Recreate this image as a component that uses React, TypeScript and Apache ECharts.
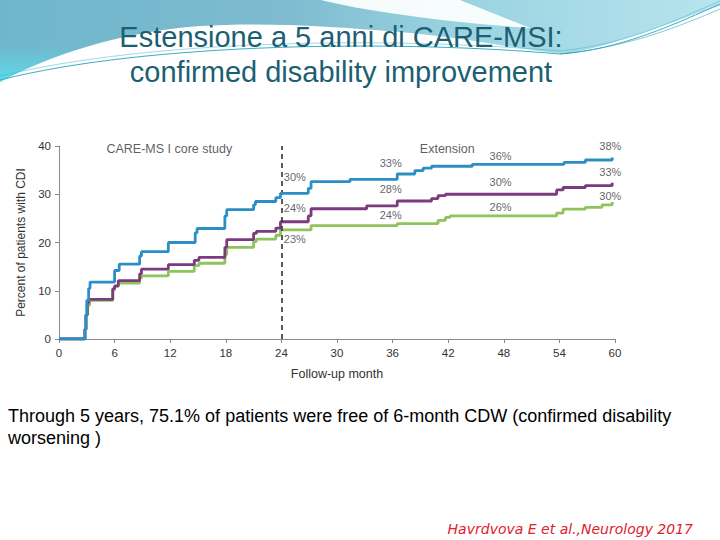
import React, { useEffect, useRef } from "react";
import * as echarts from "echarts";

// ---- Data ----
const blueMonths = [0, 2.8, 2.9, 3.0, 3.2, 3.35, 6.0, 6.5, 8.7, 8.9, 11.8, 14.7, 14.9, 17.9, 18.1, 21.0, 21.2, 23.4, 23.9, 26.9, 27.2, 31.4, 36.5, 38.4, 39.3, 40.2, 44.6, 54.5, 56.8, 59.7];
const blueValues = [0, 2, 5, 8, 10.5, 11.8, 14.2, 15.5, 17.2, 18.1, 20.0, 22.0, 22.9, 25.5, 26.8, 27.8, 28.5, 29.3, 30.2, 31.2, 32.6, 33.1, 34.2, 34.9, 35.4, 35.8, 36.2, 36.6, 37.1, 37.6];

const purpleMonths = [0, 2.8, 2.9, 3.05, 3.2, 5.8, 6.0, 6.4, 8.7, 8.9, 11.8, 14.6, 15.1, 17.9, 18.1, 21.0, 21.3, 23.4, 23.9, 26.9, 27.2, 33.2, 36.5, 40.2, 40.9, 41.7, 53.7, 54.4, 56.8, 59.7];
const purpleValues = [0, 2, 5, 7.5, 8.2, 10.4, 11.0, 12.1, 13.5, 14.5, 15.4, 16.3, 16.9, 19.0, 20.6, 21.9, 22.3, 23.0, 24.3, 25.5, 27.0, 27.6, 28.6, 29.1, 29.7, 30.0, 30.9, 31.4, 31.8, 32.4];

const greenMonths = [0, 2.8, 2.95, 3.1, 3.3, 5.8, 6.0, 6.4, 8.7, 8.9, 11.8, 14.6, 15.1, 17.9, 18.1, 21.0, 21.3, 23.4, 23.9, 27.2, 36.5, 40.9, 41.7, 42.2, 53.7, 54.4, 56.8, 58.6, 59.7];
const greenValues = [0, 2, 5, 7.0, 8.0, 10.2, 10.9, 11.6, 12.6, 13.1, 14.0, 15.2, 15.7, 17.5, 19.0, 20.2, 20.7, 21.5, 22.6, 23.5, 23.9, 24.6, 25.2, 25.5, 26.1, 26.9, 27.3, 27.8, 28.4];

const pctLabelMonths = [25.45, 25.45, 25.45, 35.8, 35.8, 35.8, 47.65, 47.65, 47.65, 59.5, 59.5, 59.5];
const pctLabelValues = [33.6, 27.2, 20.8, 36.4, 31.1, 25.6, 37.9, 32.5, 27.3, 39.9, 34.6, 29.7];
const pctLabelTexts = ["30%", "24%", "23%", "33%", "28%", "24%", "36%", "30%", "26%", "38%", "33%", "30%"];

const phaseLabelMonths = [11.9, 41.9];
const phaseLabelValues = [39.3, 39.3];
const phaseLabelTexts = ["CARE-MS I core study", "Extension"];

const xTicks = [0, 6, 12, 18, 24, 30, 36, 42, 48, 54, 60];
const yTicks = [0, 10, 20, 30, 40];
const dividerMonth = 24;

const titleLines = ["Estensione a 5 anni di CARE-MSI:", "confirmed disability improvement"];
const bodyLines = [
  "Through 5 years, 75.1% of patients were free of 6-month CDW (confirmed disability",
  "worsening )",
];
const citation = "Havrdvova E et al.,Neurology 2017";

const FONT = "'Liberation Sans', Arial, sans-serif";

let shapesRegistered = false;
function registerShapes() {
  if (shapesRegistered) return;
  shapesRegistered = true;
  echarts.graphic.registerShape(
    "band",
    echarts.graphic.extendPath(
      "M0,0 L720,0 L720,6 C680,18 620,45 565,54 C520,50 470,38 400,32 C330,26 260,22 200,26 C120,32 50,55 0,82 Z",
      {}
    )
  );
  echarts.graphic.registerShape(
    "crescent",
    echarts.graphic.extendPath("M321,0 C360,10 440,22 530,28 C510,20 480,8 460,0 Z", {})
  );
  echarts.graphic.registerShape(
    "thinLine1",
    echarts.graphic.extendPath("M0,80 C150,42 400,40 560,54 C620,50 680,22 720,4", {})
  );
  echarts.graphic.registerShape(
    "thinLine2",
    echarts.graphic.extendPath("M0,76 C150,40 380,36 560,51 C630,44 680,18 720,1", {})
  );
  echarts.graphic.registerShape(
    "thinLine3",
    echarts.graphic.extendPath("M560,54 C630,47 680,26 720,9", {})
  );
}

export default function App() {
  const ref = useRef<HTMLDivElement>(null);

  useEffect(() => {
    if (!ref.current) return;
    registerShapes();
    const chart = echarts.init(ref.current, undefined, { renderer: "svg" });

    const toPairs = (xs: number[], ys: number[]) => xs.map((x, i) => [x, ys[i]]);
    const lineSeries = (name: string, xs: number[], ys: number[], color: string, z: number) => ({
      name,
      type: "line",
      step: "end",
      data: toPairs(xs, ys),
      showSymbol: false,
      symbol: "none",
      z,
      lineStyle: { color, width: 2.8 },
      itemStyle: { color },
    });

    const option: any = {
      animation: false,
      backgroundColor: "#ffffff",
      textStyle: { fontFamily: FONT },
      grid: { left: 59, right: 105, top: 146, bottom: 201, containLabel: false },
      xAxis: {
        type: "value",
        min: xTicks[0],
        max: xTicks[xTicks.length - 1],
        interval: xTicks[1] - xTicks[0],
        name: "Follow-up month",
        nameLocation: "middle",
        nameGap: 28,
        nameTextStyle: { fontSize: 12.5, color: "#333", fontFamily: FONT },
        axisLine: { show: true, lineStyle: { color: "#8a8a8a", width: 1 } },
        axisTick: { show: true, length: 4, lineStyle: { color: "#8a8a8a" } },
        axisLabel: { fontSize: 11.5, color: "#333", margin: 8, fontFamily: FONT },
        splitLine: { show: false },
      },
      yAxis: {
        type: "value",
        min: yTicks[0],
        max: yTicks[yTicks.length - 1],
        interval: yTicks[1] - yTicks[0],
        name: "Percent of patients with CDI",
        nameLocation: "middle",
        nameGap: 30,
        nameTextStyle: { fontSize: 12, color: "#333", fontFamily: FONT },
        axisLine: { show: true, lineStyle: { color: "#8a8a8a", width: 1 } },
        axisTick: { show: true, length: 4, lineStyle: { color: "#8a8a8a" } },
        axisLabel: { fontSize: 11.5, color: "#333", margin: 8, fontFamily: FONT },
        splitLine: { show: false },
      },
      series: [
        {
          ...lineSeries("Green", greenMonths, greenValues, "#8fc35c", 3),
          markLine: {
            silent: true,
            symbol: "none",
            label: { show: false },
            lineStyle: { color: "#333", type: [5, 4], width: 1.6 },
            data: [{ xAxis: dividerMonth }],
          },
        },
        lineSeries("Purple", purpleMonths, purpleValues, "#7b3b7e", 4),
        lineSeries("Blue", blueMonths, blueValues, "#2b8fc6", 5),
        {
          name: "pct",
          type: "scatter",
          symbolSize: 0,
          z: 6,
          data: pctLabelMonths.map((m, i) => ({ value: [m, pctLabelValues[i]], name: pctLabelTexts[i] })),
          label: {
            show: true,
            position: "inside",
            formatter: (p: any) => p.name,
            fontSize: 11,
            color: "#3a3a3a",
            fontFamily: FONT,
          },
        },
        {
          name: "phase",
          type: "scatter",
          symbolSize: 0,
          z: 6,
          data: phaseLabelMonths.map((m, i) => ({ value: [m, phaseLabelValues[i]], name: phaseLabelTexts[i] })),
          label: {
            show: true,
            position: "inside",
            formatter: (p: any) => p.name,
            fontSize: 12.5,
            color: "#333",
            fontFamily: FONT,
          },
        },
      ],
      graphic: [
        {
          type: "band",
          x: 0,
          y: 0,
          z: -10,
          silent: true,
          style: {
            fill: new echarts.graphic.LinearGradient(0, 0, 1, 0, [
              { offset: 0, color: "#6fb6cc" },
              { offset: 0.4, color: "#7ebbd0" },
              { offset: 0.62, color: "#98d2e0" },
              { offset: 1, color: "#b8e4ed" },
            ]),
          },
        },
        {
          type: "band",
          x: 0,
          y: 0,
          z: -9,
          silent: true,
          style: {
            fill: new echarts.graphic.RadialGradient(0, 1, 0.45, [
              { offset: 0, color: "rgba(90,225,238,0.85)" },
              { offset: 1, color: "rgba(90,225,238,0)" },
            ]),
          },
        },
        {
          type: "band",
          x: 0,
          y: 0,
          z: -9,
          silent: true,
          style: {
            fill: new echarts.graphic.RadialGradient(0.78, 1, 0.3, [
              { offset: 0, color: "rgba(70,180,205,0.6)" },
              { offset: 1, color: "rgba(70,180,205,0)" },
            ]),
          },
        },
        {
          type: "crescent",
          x: 0,
          y: 0,
          z: -8,
          silent: true,
          style: { fill: "rgba(255,255,255,0.92)" },
        },
        {
          type: "thinLine1",
          x: 0,
          y: 0,
          z: -7,
          silent: true,
          style: { fill: null, stroke: "#3aaec4", lineWidth: 1 },
        },
        {
          type: "thinLine2",
          x: 0,
          y: 0,
          z: -7,
          silent: true,
          style: { fill: null, stroke: "rgba(58,174,196,0.6)", lineWidth: 0.8 },
        },
        {
          type: "thinLine3",
          x: 0,
          y: 0,
          z: -7,
          silent: true,
          style: { fill: null, stroke: "rgba(40,160,190,0.7)", lineWidth: 0.8 },
        },
        {
          type: "text",
          x: 341,
          y: 37,
          z: 10,
          silent: true,
          style: {
            text: titleLines[0],
            fill: "#1c5f73",
            font: `29px ${FONT}`,
            align: "center",
            verticalAlign: "middle",
          },
        },
        {
          type: "text",
          x: 341,
          y: 72,
          z: 10,
          silent: true,
          style: {
            text: titleLines[1],
            fill: "#1c5f73",
            font: `29px ${FONT}`,
            align: "center",
            verticalAlign: "middle",
          },
        },
        {
          type: "text",
          x: 8,
          y: 416,
          z: 10,
          silent: true,
          style: {
            text: bodyLines[0],
            fill: "#000",
            font: `18px ${FONT}`,
            align: "left",
            verticalAlign: "middle",
          },
        },
        {
          type: "text",
          x: 8,
          y: 438,
          z: 10,
          silent: true,
          style: {
            text: bodyLines[1],
            fill: "#000",
            font: `18px ${FONT}`,
            align: "left",
            verticalAlign: "middle",
          },
        },
        {
          type: "text",
          x: 693,
          y: 529,
          z: 10,
          silent: true,
          style: {
            text: citation,
            fill: "#e0202c",
            font: `italic 14px 'DejaVu Sans', sans-serif`,
            align: "right",
            verticalAlign: "middle",
          },
        },
      ],
    };

    chart.setOption(option);
    return () => chart.dispose();
  }, []);

  return (
    <div
      ref={ref}
      style={{ position: "fixed", left: 0, top: 0, width: 720, height: 540, background: "#fff" }}
    />
  );
}
